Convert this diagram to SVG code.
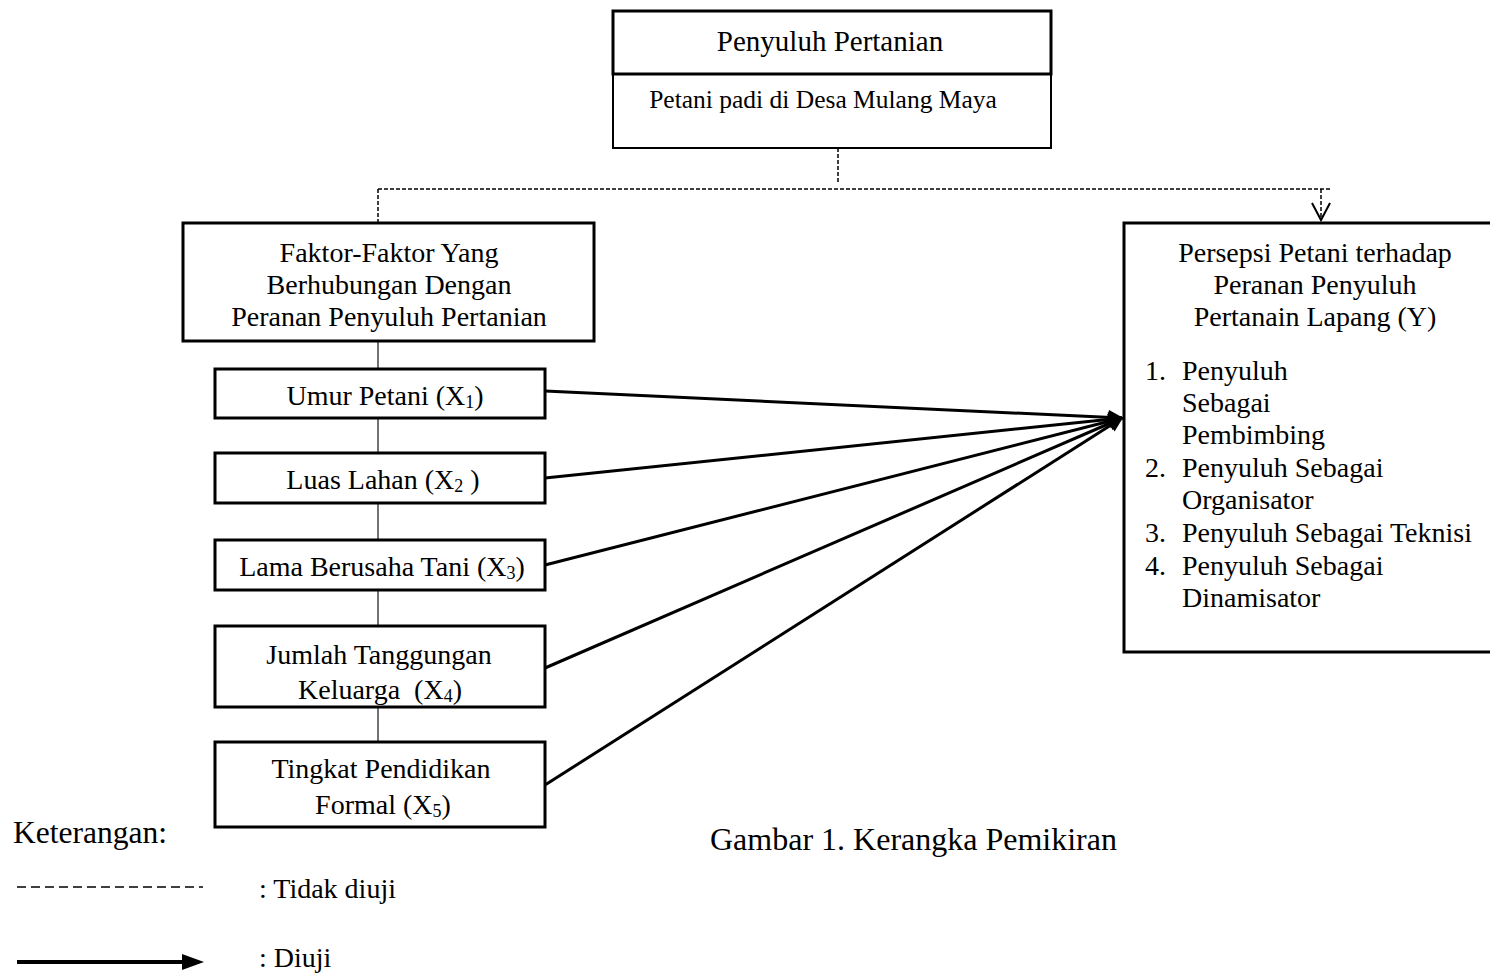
<svg xmlns="http://www.w3.org/2000/svg" width="1490" height="973" viewBox="0 0 1490 973">
<style>
text{font-family:"Liberation Serif","Times New Roman",serif;fill:#000}
.t{font-size:28px}
.c{text-anchor:middle}
.box{fill:#fff;stroke:#000;stroke-width:3}
.link{stroke:#444;stroke-width:1.5;fill:none}
.dash{stroke:#000;stroke-width:1.5;fill:none;stroke-dasharray:4 2}
.arr{stroke:#000;stroke-width:3;fill:none}
.sub{font-size:18px}
</style>
<defs>
<marker id="ah" viewBox="0 0 10 10" refX="9" refY="5" markerWidth="6" markerHeight="5" markerUnits="strokeWidth" orient="auto">
<path d="M0,0 L10,5 L0,10 z" fill="#000"/>
</marker>
</defs>

<g id="connectors">
<path class="dash" d="M838,148 V184"/>
<path class="dash" d="M378,189 H1331"/>
<path class="dash" d="M378,189 V222"/>
<path class="dash" d="M1321,189 V219"/>
<path d="M1312,203 L1321,220 L1330,203" fill="none" stroke="#000" stroke-width="2"/>
<path class="link" d="M378,341 V369 M378,418 V453 M378,503 V540 M378,590 V626 M378,707 V742"/>
<path class="arr" marker-end="url(#ah)" d="M545,391 L1122,418"/>
<path class="arr" marker-end="url(#ah)" d="M545,478 L1122,418"/>
<path class="arr" marker-end="url(#ah)" d="M545,565 L1122,418"/>
<path class="arr" marker-end="url(#ah)" d="M545,668 L1122,418"/>
<path class="arr" marker-end="url(#ah)" d="M545,785 L1122,418"/>
</g>

<g id="node-top">
<rect x="613" y="74" width="438" height="74" fill="#fff" stroke="#000" stroke-width="2"/>
<rect x="613" y="11" width="438" height="63" class="box"/>
<text class="c" x="830" y="51" style="font-size:29px">Penyuluh Pertanian</text>
<text class="c" x="823" y="108" style="font-size:25.5px">Petani padi di Desa Mulang Maya</text>
</g>

<g id="node-faktor">
<rect x="183" y="223" width="411" height="118" class="box"/>
<text class="t c" x="389" y="262">Faktor-Faktor Yang</text>
<text class="t c" x="389" y="294">Berhubungan Dengan</text>
<text class="t c" x="389" y="326">Peranan Penyuluh Pertanian</text>
</g>

<g id="node-x1">
<rect x="215" y="369" width="330" height="49" class="box"/>
<text class="t c" x="385" y="405">Umur Petani (X<tspan class="sub" dy="3">1</tspan><tspan dy="-3">)</tspan></text>
</g>

<g id="node-x2">
<rect x="215" y="453" width="330" height="50" class="box"/>
<text class="t c" x="383" y="489">Luas Lahan (X<tspan class="sub" dy="3">2</tspan><tspan dy="-3"> )</tspan></text>
</g>

<g id="node-x3">
<rect x="215" y="540" width="330" height="50" class="box"/>
<text class="t c" x="382" y="576">Lama Berusaha Tani (X<tspan class="sub" dy="3">3</tspan><tspan dy="-3">)</tspan></text>
</g>

<g id="node-x4">
<rect x="215" y="626" width="330" height="81" class="box"/>
<text class="t c" x="379" y="664">Jumlah Tanggungan</text>
<text class="t" x="298" y="699" xml:space="preserve">Keluarga  (X<tspan class="sub" dy="3">4</tspan><tspan dy="-3">)</tspan></text>
</g>

<g id="node-x5">
<rect x="215" y="742" width="330" height="85" class="box"/>
<text class="t c" x="381" y="778">Tingkat Pendidikan</text>
<text class="t c" x="383" y="814">Formal (X<tspan class="sub" dy="3">5</tspan><tspan dy="-3">)</tspan></text>
</g>

<g id="node-y">
<rect x="1124" y="223" width="380" height="429" class="box"/>
<text class="t c" x="1315" y="262">Persepsi Petani terhadap</text>
<text class="t c" x="1315" y="294">Peranan Penyuluh</text>
<text class="t c" x="1315" y="326">Pertanain Lapang (Y)</text>
<text class="t" x="1145" y="380">1.</text>
<text class="t" x="1182" y="380">Penyuluh</text>
<text class="t" x="1182" y="412">Sebagai</text>
<text class="t" x="1182" y="444">Pembimbing</text>
<text class="t" x="1145" y="477">2.</text>
<text class="t" x="1182" y="477">Penyuluh Sebagai</text>
<text class="t" x="1182" y="509">Organisator</text>
<text class="t" x="1145" y="542">3.</text>
<text class="t" x="1182" y="542">Penyuluh Sebagai Teknisi</text>
<text class="t" x="1145" y="575">4.</text>
<text class="t" x="1182" y="575">Penyuluh Sebagai</text>
<text class="t" x="1182" y="607">Dinamisator</text>
</g>

<g id="caption">
<text x="710" y="850" style="font-size:32px">Gambar 1. Kerangka Pemikiran</text>
</g>

<g id="legend">
<text x="13" y="843" style="font-size:31.5px">Keterangan:</text>
<path d="M17,887 H203" stroke="#000" stroke-width="1.5" stroke-dasharray="9 5"/>
<text class="t" x="259" y="898">: Tidak diuji</text>
<path d="M17,962 H184" stroke="#000" stroke-width="4"/>
<path d="M182,954 L204,962 L182,970 z" fill="#000"/>
<text class="t" x="259" y="967">: Diuji</text>
</g>
</svg>
